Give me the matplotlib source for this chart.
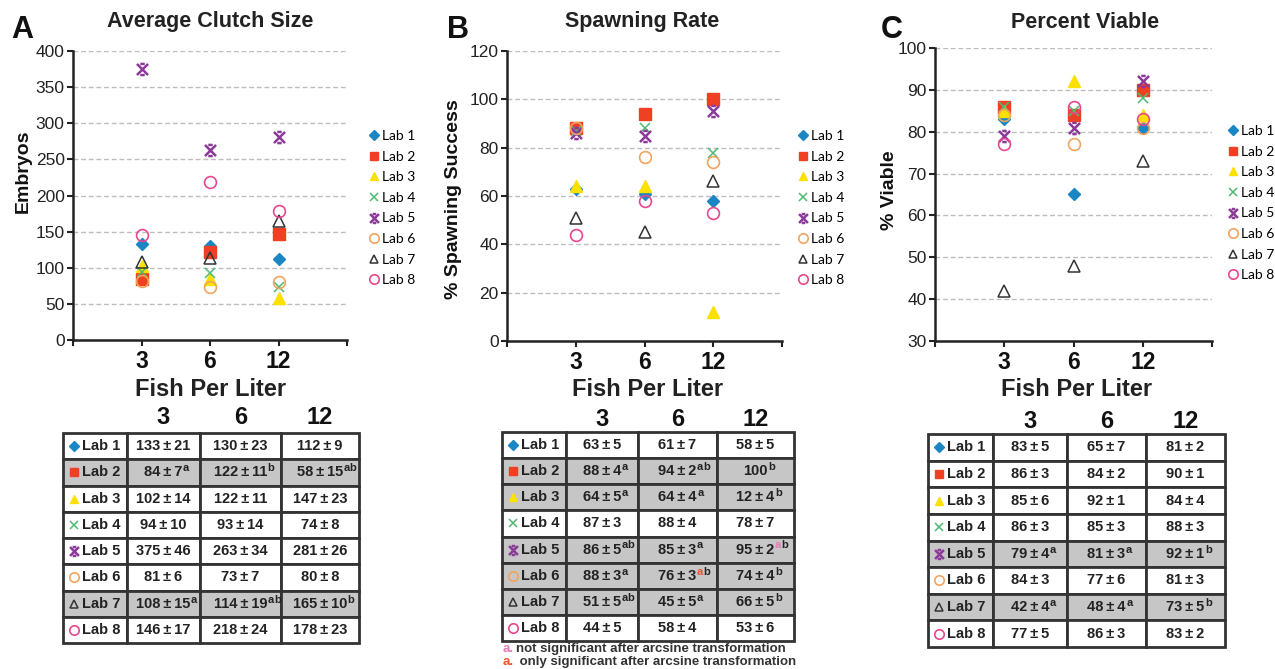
import matplotlib
matplotlib.use('Agg')
import matplotlib.pyplot as plt
from matplotlib.path import Path
from matplotlib.patches import Rectangle

plt.rcParams['font.family'] = ['Liberation Sans', 'DejaVu Sans']

densities = ['3', '6', '12']
labs = ['Lab 1', 'Lab 2', 'Lab 3', 'Lab 4', 'Lab 5', 'Lab 6', 'Lab 7', 'Lab 8']

# points (rows = labs, cols = 3, 6, 12 fish per liter)
clutch_size = [[133, 130, 112], [84, 122, 147], [102, 85, 58], [94, 93, 74],
               [375, 263, 281], [81, 73, 80], [108, 114, 165], [146, 218, 178]]
spawning_rate = [[63, 61, 58], [88, 94, 100], [64, 64, 12], [87, 88, 78],
                 [86, 85, 95], [88, 76, 74], [51, 45, 66], [44, 58, 53]]
percent_viable = [[83, 65, 81], [86, 84, 90], [85, 92, 84], [86, 85, 88],
                  [79, 81, 92], [84, 77, 81], [42, 48, 73], [77, 86, 83]]

# table text
clutch_text = [['133±21', '130±23', '112±9'], ['84±7', '122±11', '58±15'],
               ['102±14', '122±11', '147±23'], ['94±10', '93±14', '74±8'],
               ['375±46', '263±34', '281±26'], ['81±6', '73±7', '80±8'],
               ['108±15', '114±19', '165±10'], ['146±17', '218±24', '178±23']]
clutch_sup = [['', '', ''], ['a', 'b', 'ab'], ['', '', ''], ['', '', ''],
              ['', '', ''], ['', '', ''], ['a', 'ab', 'b'], ['', '', '']]
clutch_grey = [1, 6]

spawn_text = [['63±5', '61±7', '58±5'], ['88±4', '94±2', '100'],
              ['64±5', '64±4', '12±4'], ['87±3', '88±4', '78±7'],
              ['86±5', '85±3', '95±2'], ['88±3', '76±3', '74±4'],
              ['51±5', '45±5', '66±5'], ['44±5', '58±4', '53±6']]
spawn_sup = [['', '', ''], ['a', 'ab', 'b'], ['a', 'a', 'b'], ['', '', ''],
             ['ab', 'a', 'ab'], ['a', 'ab', 'b'], ['ab', 'a', 'b'], ['', '', '']]
spawn_grey = [1, 2, 4, 5, 6]

viable_text = [['83±5', '65±7', '81±2'], ['86±3', '84±2', '90±1'],
               ['85±6', '92±1', '84±4'], ['86±3', '85±3', '88±3'],
               ['79±4', '81±3', '92±1'], ['84±3', '77±6', '81±3'],
               ['42±4', '48±4', '73±5'], ['77±5', '86±3', '83±2']]
viable_sup = [['', '', ''], ['', '', ''], ['', '', ''], ['', '', ''],
              ['a', 'a', 'b'], ['', '', ''], ['a', 'a', 'b'], ['', '', '']]
viable_grey = [4, 6]

PINK = '#e57ab6'
RED = '#f0522e'
# coloured superscript letters in the spawning table
spawn_sup_colors = {(4, 2): [PINK, '#222222'], (5, 1): [RED, '#222222']}

footnotes = [('a.', PINK, 'not significant after arcsine transformation'),
             ('a.', RED, ' only significant after arcsine transformation')]

# marker for lab 5: an x with short caps
star = Path([(-1, -1), (1, 1), (-1, 1), (1, -1), (-0.4, 1), (0.4, 1), (-0.4, -1), (0.4, -1)],
            [Path.MOVETO, Path.LINETO] * 4)

styles = [
    dict(marker='D', color='#1a86c4', ms=6.5, mec='#1a86c4'),
    dict(marker='s', color='#ef4023', ms=8, mec='#ef4023'),
    dict(marker='^', color='#fbe000', ms=8, mec='#fbe000'),
    dict(marker='x', color='#4dbb72', ms=7.5, mew=1.1),
    dict(marker=star, color='#8c3a99', ms=8, mew=1.8, mfc='none'),
    dict(marker='o', color='#f2a45e', ms=8.5, mfc='none', mew=1.2),
    dict(marker='^', color='#333333', ms=8, mfc='none', mew=1.1),
    dict(marker='o', color='#e8478f', ms=8.5, mfc='none', mew=1.2),
]

W, H = 1275, 669
fig = plt.figure(figsize=(W / 100, H / 100), dpi=100)


def px(x, y):
    return x / W, 1 - y / H


def panel(left, right, top, bottom, values, ymin, ymax, step, ylabel, ylab_xy,
          title, title_x, xlab_x, legend_xy):
    ax = fig.add_axes([left / W, 1 - bottom / H, (right - left) / W, (bottom - top) / H])
    for i, lab in enumerate(labs):
        ax.plot([1, 2, 3], values[i], ls='none', label=lab, **styles[i])
    ax.set_xlim(0, 4)
    ax.set_ylim(ymin, ymax)
    ax.set_yticks(range(ymin, ymax + 1, step))
    ax.set_xticks([1, 2, 3])
    ax.set_xticklabels(densities, fontsize=16.5, fontweight='bold')
    ax.set_xticks([0, 4], minor=True)
    ax.tick_params(axis='x', which='both', direction='out', length=4, width=1.5, pad=3, colors='#222222')
    ax.tick_params(axis='y', direction='out', length=4, width=1.5, labelsize=12.5, pad=2, colors='#222222')
    for lbl in ax.get_xticklabels():
        lbl.set_color('#111111')
    ax.yaxis.grid(True, ls=(0, (3.5, 2)), color='#bdbdbd', lw=1)
    ax.set_axisbelow(True)
    for s in ['top', 'right']:
        ax.spines[s].set_visible(False)
    for s in ['left', 'bottom']:
        ax.spines[s].set_linewidth(1.8)
        ax.spines[s].set_color('#222222')
    ax.set_ylabel(ylabel, fontsize=14, fontweight='bold', color='#111111')
    ax.yaxis.set_label_coords(*ylab_xy)
    fig.text(*px(title_x, 22), title, fontsize=15.5, fontweight='bold', ha='center', va='center', color='#222222')
    fig.text(*px(xlab_x, 389), 'Fish Per Liter', fontsize=17, fontweight='bold', ha='center', va='center', color='#222222')
    ax.legend(loc='upper left', bbox_to_anchor=px(*legend_xy), bbox_transform=fig.transFigure,
              frameon=False, borderpad=0, handlelength=0.7, handletextpad=0.25, labelspacing=0.62,
              prop={'family': 'Lato', 'size': 10}, numpoints=1, markerscale=0.8)
    return ax


panel(73, 347, 51, 340, clutch_size, 0, 400, 50, 'Embryos', (-0.15, 0.585),
      'Average Clutch Size', 210, 211, (362, 123))
panel(507, 782, 51, 341, spawning_rate, 0, 120, 20, '% Spawning Success', (-0.165, 0.49),
      'Spawning Rate', 642, 648, (791, 123))
panel(935, 1212, 48, 341, percent_viable, 30, 100, 10, '% Viable', (-0.135, 0.515),
      'Percent Viable', 1085, 1077, (1221, 118))

for letter, x in [('A', 22), ('B', 458), ('C', 892)]:
    fig.text(*px(x, 30), letter, fontsize=22, fontweight='bold', ha='center', va='center', color='#111111')

# overlay in pixel units for the tables
tax = fig.add_axes([0, 0, 1, 1])
tax.set_xlim(0, W)
tax.set_ylim(H, 0)
tax.axis('off')
tax.patch.set_visible(False)


def table(cols, top, bottom, head_y, texts, sups, grey, sup_colors=None):
    sup_colors = sup_colors or {}
    rh = (bottom - top) / 8
    for j, d in enumerate(densities):
        tax.text((cols[j + 1] + cols[j + 2]) / 2, head_y, d, fontsize=17, fontweight='bold',
                 ha='center', va='center', color='#111111')
    for i in range(8):
        y0 = top + i * rh
        fc = '#c6c6c6' if i in grey else 'white'
        for j in range(4):
            tax.add_patch(Rectangle((cols[j], y0), cols[j + 1] - cols[j], rh, fc=fc,
                                    ec='#333333', lw=2))
        yc = y0 + rh / 2
        st = dict(styles[i])
        st['ms'] = st['ms'] * 0.8
        tax.plot([cols[0] + 11], [yc], ls='none', **st)
        tax.text(cols[0] + 19, yc, labs[i], fontsize=10.5, fontweight='bold', ha='left',
                 va='center', color='#222222')
        for j in range(3):
            txt = texts[i][j].replace('±', '\u2009±\u2009')
            prev = tax.text((cols[j + 1] + cols[j + 2]) / 2, yc, txt, fontsize=10.5,
                            fontweight='bold', ha='center', va='center', color='#222222')
            for k, ch in enumerate(sups[i][j]):
                c = sup_colors.get((i, j), ['#222222'] * 2)[k]
                prev = tax.annotate(ch, xy=(1, 1), xycoords=prev,
                                    xytext=(0.3, 1.5) if k == 0 else (0, 0),
                                    textcoords='offset points', ha='left', va='top', fontsize=8,
                                    fontweight='bold', color=c)


table([63, 127, 200, 281, 359], 433, 643, 418, clutch_text, clutch_sup, clutch_grey)
table([502, 566, 638, 717, 794], 432, 641, 419, spawn_text, spawn_sup, spawn_grey, spawn_sup_colors)
table([928, 993, 1067, 1146, 1225], 434, 647, 422, viable_text, viable_sup, viable_grey)

for k, (mark, c, note) in enumerate(footnotes):
    y = 649 + k * 13
    tax.text(503, y, mark, fontsize=9.5, fontweight='bold', color=c, ha='left', va='center')
    tax.text(516, y, note, fontsize=9.5, fontweight='bold', color='#333333', ha='left', va='center')

fig.savefig('out.png', dpi=100)
